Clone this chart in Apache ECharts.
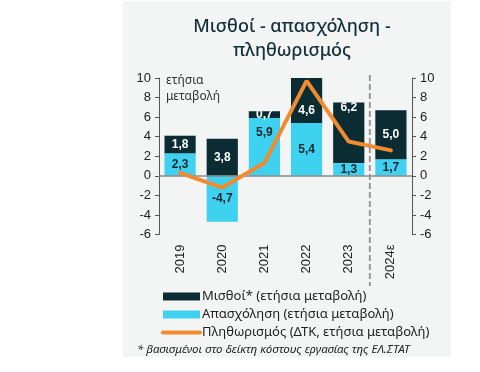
<!DOCTYPE html>
<html><head><meta charset="utf-8">
<script src="https://cdn.jsdelivr.net/npm/echarts@6/dist/echarts.min.js"></script>
<style>html,body{margin:0;padding:0;background:#fff}#c{width:480px;height:372px}</style>
</head><body><div id="c"></div>
<script>
const categories = ['2019','2020','2021','2022','2023','2024ε'];
const wages = [1.8, 3.8, 0.7, 4.6, 6.2, 5.0];
const employment = [2.3, -4.7, 5.9, 5.4, 1.3, 1.7];
const inflation = [0.3, -1.2, 1.3, 9.7, 3.5, 2.6];
const yTicks = {min: -6, max: 10, interval: 2};

// label vertical nudges (styling only)
const wageLabelNudge = [0, 0, 0, 10, -25, 0];
const empLabelNudge = [0, 0, -14, 0, 0, 0];

const fmt = v => String(v.toFixed(1)).replace('.', ',');
const DARK = '#0c2c34', CYAN = '#3ed2f0', ORANGE = '#f28a30';

const chart = echarts.init(document.getElementById('c'));
const yAxisCommon = {
  type: 'value', min: yTicks.min, max: yTicks.max, interval: yTicks.interval,
  splitLine: {show: false},
  axisLine: {show: true, lineStyle: {color: '#555', width: 1}},
  axisTick: {show: true, length: 4, lineStyle: {color: '#555'}},
  axisLabel: {color: '#222', fontSize: 13, fontFamily: 'Liberation Sans', margin: 8}
};
const option = {
  animation: false,
  backgroundColor: '#fff',
  title: {
    text: 'Μισθοί - απασχόληση -\nπληθωρισμός',
    left: 287, top: 10, textAlign: 'center',
    textStyle: {fontFamily: 'Noto Sans', fontSize: 18, fontWeight: 500, color: '#12303a', lineHeight: 24}
  },
  grid: {left: 159, right: 68, top: 78, bottom: 137.5},
  legend: {
    orient: 'vertical', left: 156, top: 285, itemWidth: 37, itemHeight: 8, itemGap: 5,
    textStyle: {fontFamily: 'Noto Sans', fontSize: 13, color: '#222', padding: [0,0,0,-3]},
    data: [
      {name: 'Μισθοί* (ετήσια μεταβολή)', icon: 'rect'},
      {name: 'Απασχόληση (ετήσια μεταβολή)', icon: 'rect'},
      {name: 'Πληθωρισμός (ΔΤΚ, ετήσια μεταβολή)', itemStyle: {opacity: 0},
        lineStyle: {width: 4, color: ORANGE, cap: 'round'}}
    ]
  },
  xAxis: {
    type: 'category', data: categories,
    axisLine: {show: false}, axisTick: {show: false},
    axisLabel: {rotate: 90, color: '#222', fontSize: 13, fontFamily: 'Liberation Sans', margin: 10}
  },
  yAxis: [Object.assign({}, yAxisCommon), Object.assign({}, yAxisCommon)],
  series: [
    {
      name: 'Απασχόληση (ετήσια μεταβολή)', type: 'bar', stack: 's', barWidth: '74%',
      itemStyle: {color: CYAN},
      data: employment.map((v, i) => ({value: v, label: {offset: [0, empLabelNudge[i]]}})),
      label: {show: true, position: 'inside', color: '#10262d', fontWeight: 'bold', fontSize: 12,
        fontFamily: 'Liberation Sans', formatter: p => fmt(p.value)},
      markLine: {silent: true, symbol: 'none', label: {show: false},
        lineStyle: {color: '#8a8a8a', width: 1.5, type: 'solid'}, data: [{yAxis: 0}]}
    },
    {
      name: 'Μισθοί* (ετήσια μεταβολή)', type: 'bar', stack: 's', barWidth: '74%',
      itemStyle: {color: DARK},
      data: wages.map((v, i) => ({value: v, label: {offset: [0, wageLabelNudge[i]]}})),
      label: {show: true, position: 'inside', color: '#fff', fontWeight: 'bold', fontSize: 12,
        fontFamily: 'Liberation Sans', formatter: p => fmt(p.value)}
    },
    {
      name: 'Πληθωρισμός (ΔΤΚ, ετήσια μεταβολή)', type: 'line', data: inflation,
      symbol: 'none', lineStyle: {color: ORANGE, width: 4, cap: 'round'}, itemStyle: {color: ORANGE}, z: 5
    }
  ]
};
chart.setOption(option);

const c4 = chart.convertToPixel({xAxisIndex: 0}, categories[4]);
const c5 = chart.convertToPixel({xAxisIndex: 0}, categories[5]);
const xb = (c4 + c5) / 2;
chart.setOption({
  graphic: [
    {type: 'rect', z: -10, shape: {x: 123, y: 1, width: 328, height: 356}, style: {fill: '#f3f4f4'}},
    {type: 'line', z: 10, shape: {x1: xb, y1: 75, x2: xb, y2: 286},
      style: {stroke: '#999', lineWidth: 2, lineDash: [6, 3]}},
    {type: 'text', left: 166, top: 73, style: {text: 'ετήσια\nμεταβολή', fill: '#333',
      font: '12px "Noto Sans"', lineHeight: 16}},
    {type: 'text', left: 137, top: 344, style: {text: '* βασισμένοι στο δείκτη κόστους εργασίας της ΕΛ.ΣΤΑΤ',
      fill: '#222', font: 'italic 11.5px "Noto Sans"'}}
  ]
});
</script></body></html>
